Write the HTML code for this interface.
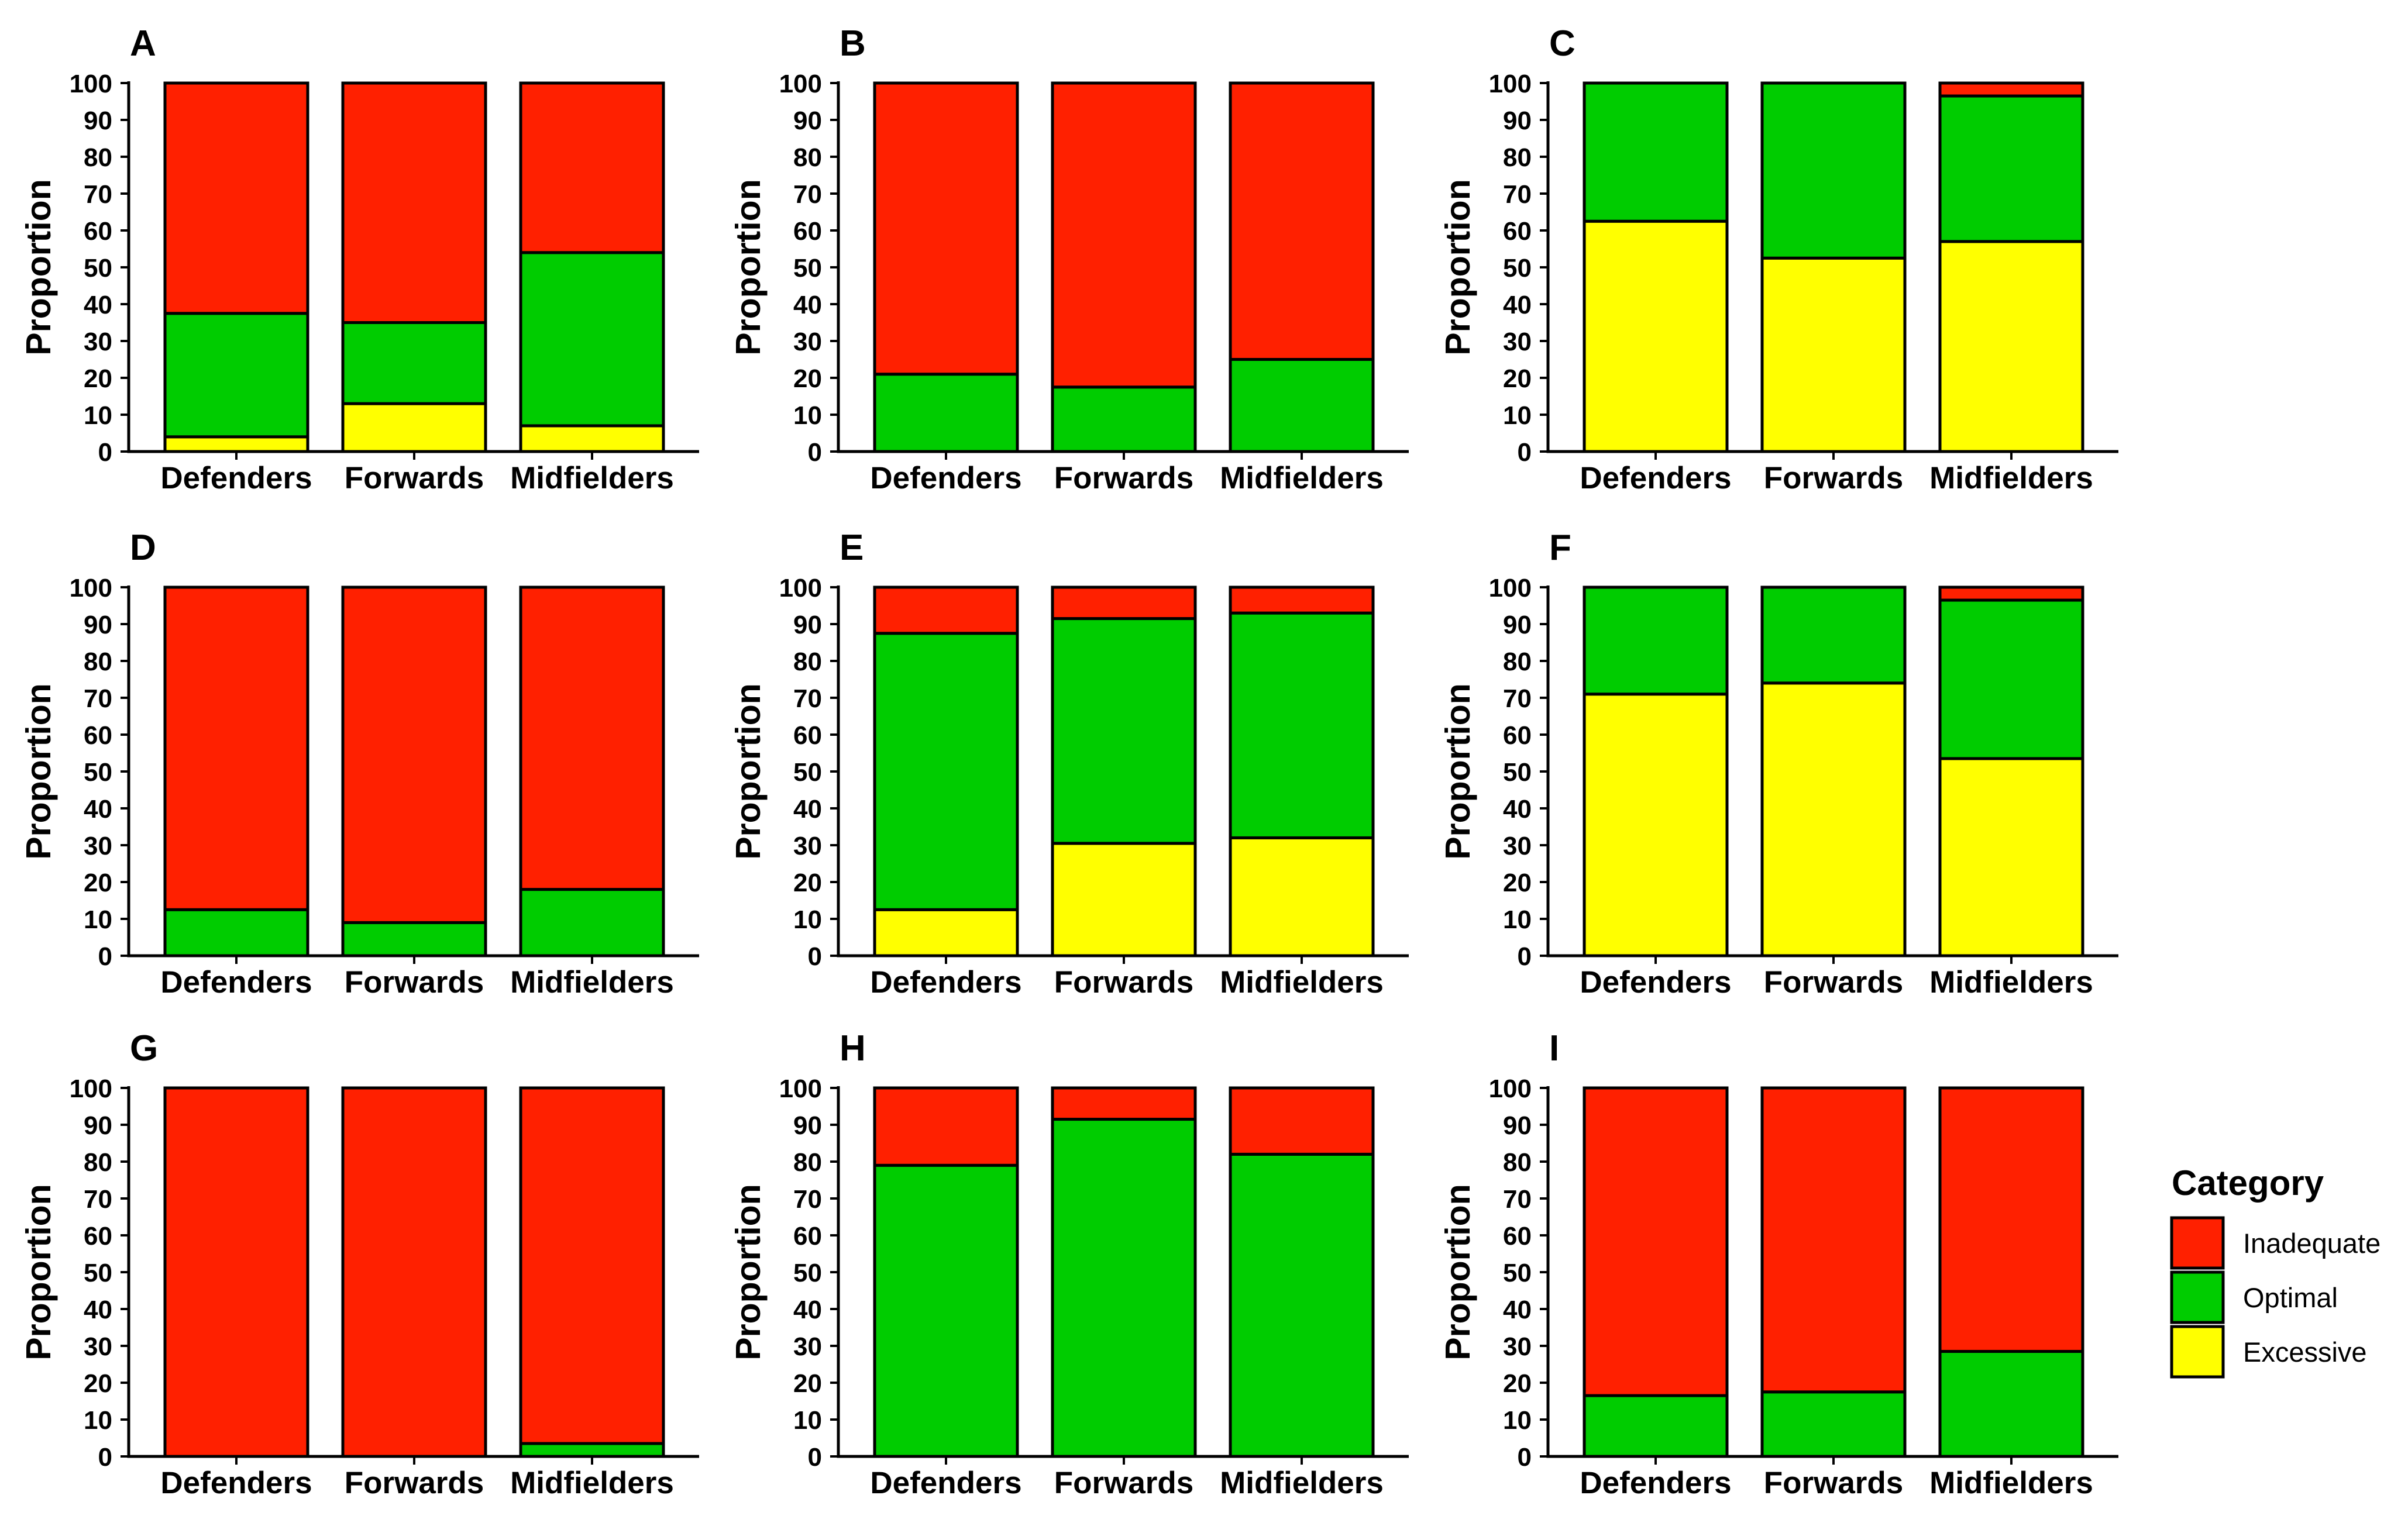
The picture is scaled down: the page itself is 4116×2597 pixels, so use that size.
<!DOCTYPE html>
<html><head><meta charset="utf-8"><style>
html,body{margin:0;padding:0;background:#fff;}
svg{display:block;font-family:"Liberation Sans",Arial,sans-serif;}
</style></head><body>
<svg id="fig" width="4116" height="2597" viewBox="0 0 4116 2597" xmlns="http://www.w3.org/2000/svg"></svg>
<script>
const panelLetters = ["A","B","C","D","E","F","G","H","I"];
const categories = ["Defenders","Forwards","Midfielders"];
const yTicks = [0,10,20,30,40,50,60,70,80,90,100];
// per panel: [Defenders, Forwards, Midfielders]
const excessive = [
  [4,13,7],[0,0,0],[62.5,52.5,57],
  [0,0,0],[12.5,30.5,32],[71,74,53.5],
  [0,0,0],[0,0,0],[0,0,0]
];
const optimal = [
  [33.5,22,47],[21,17.5,25],[37.5,47.5,39.5],
  [12.5,9,18],[75,61,61],[29,26,43],
  [0,0,3.5],[79,91.5,82],[16.5,17.5,28.5]
];
const inadequate = excessive.map((p,i)=>p.map((v,j)=>Math.max(0,100-v-optimal[i][j])));
const seriesNames = ["Excessive","Optimal","Inadequate"];
const seriesColors = ["#FFFF00","#00CC00","#FF2000"];

const NS="http://www.w3.org/2000/svg";
const svg=document.getElementById('fig');
function mk(tag,attrs,parent,text){const e=document.createElementNS(NS,tag);for(const k in attrs)e.setAttribute(k,attrs[k]);if(text!==undefined)e.textContent=text;(parent||svg).appendChild(e);return e;}

const colX=[220,1433,2646];
const rowTop=[142,1004,1860];
const plotH=630;
const xEnd=975;
const barOff=[62,366,670];
const barW=244;

panelLetters.forEach((L,p)=>{
  const ax=colX[p%3], top=rowTop[Math.floor(p/3)], bot=top+plotH;
  const g=mk('g',{});
  
  
  const yScale=v=>bot-v/100*plotH;
  const t=mk('text',{x:ax+2,y:top-47,'font-size':62,'font-weight':'bold'},g,L);
  
  
  const yt=mk('text',{x:0,y:0,'font-size':59,'font-weight':'bold','text-anchor':'middle',transform:`translate(${ax-134},${(top+bot)/2}) rotate(-90)`},g,'Proportion');
  
  
  yTicks.forEach(v=>{
    const y=yScale(v);
    mk('line',{x1:ax-14,x2:ax,y1:y,y2:y,stroke:'#000','stroke-width':4},g);
    const tl=mk('text',{x:ax-28,y:y+16,'font-size':44,'font-weight':'bold','text-anchor':'end'},g,String(v));
    
    
  });
  const series=[excessive[p],optimal[p],inadequate[p]];
  categories.forEach((c,ci)=>{
    const bx=ax+barOff[ci];
    let cum=0;
    series.forEach((s,si)=>{
      const v=s[ci];
      if(v<=0) return;
      const r=mk('rect',{x:bx,y:yScale(cum+v),width:barW,height:yScale(cum)-yScale(cum+v),fill:seriesColors[si],stroke:'#000','stroke-width':5},g);
      
      
      cum+=v;
    });
    const cx=bx+barW/2;
    mk('line',{x1:cx,x2:cx,y1:bot,y2:bot+14,stroke:'#000','stroke-width':4},g);
    const cl=mk('text',{x:cx,y:bot+63,'font-size':53,'font-weight':'bold','text-anchor':'middle'},g,c);
    
    
  });
  mk('line',{x1:ax,x2:ax,y1:top-3,y2:bot+2.5,stroke:'#000','stroke-width':5},g);
  mk('line',{x1:ax-2.5,x2:ax+xEnd,y1:bot,y2:bot,stroke:'#000','stroke-width':5},g);
});

// legend
const lg=mk('g',{});


const lt=mk('text',{x:3712,y:2043,'font-size':60,'font-weight':'bold'},lg,'Category');


const legNames=["Inadequate","Optimal","Excessive"];
const legColors=["#FF2000","#00CC00","#FFFF00"];
legNames.forEach((n,i)=>{
  const y=2082+i*93;
  const r=mk('rect',{x:3712,y:y,width:88,height:86,fill:legColors[i],stroke:'#000','stroke-width':5},lg);
  
  
  const tx=mk('text',{x:3834,y:y+60,'font-size':47},lg,n);
  
  
});
</script>
</body></html>
